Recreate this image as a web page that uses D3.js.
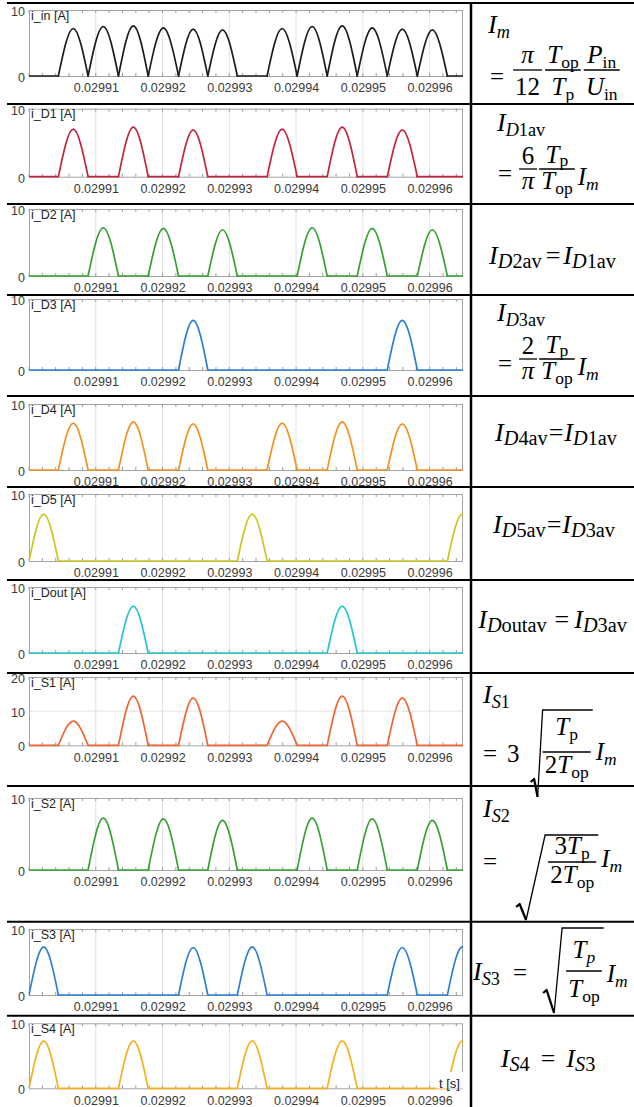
<!DOCTYPE html>
<html>
<head>
<meta charset="utf-8">
<script src="https://cdn.jsdelivr.net/npm/d3@7"></script>
<style>
  html, body { margin: 0; padding: 0; background: #fff; }
  svg { display: block; }
</style>
</head>
<body>
<svg id="chart" width="634" height="1107"></svg>
<script>
// ---------------------------------------------------------------------------
// Data: switch / diode currents of the converter over two switching cycles.
// Every conduction interval is bounded by two commutation instants; each
// series lists the peak current (A) reached in each interval (0 = off).
// ---------------------------------------------------------------------------
const slotEdges = [0.02990000, 0.02990440, 0.02990885, 0.02991340, 0.02991785,
                   0.02992240, 0.02992678, 0.02993120, 0.02993566, 0.02994016,
                   0.02994466, 0.02994916, 0.02995366, 0.02995816, 0.02996266,
                   0.02996713];

const seriesNames = ['i_in [A]', 'i_D1 [A]', 'i_D2 [A]', 'i_D3 [A]', 'i_D4 [A]',
                     'i_D5 [A]', 'i_Dout [A]', 'i_S1 [A]', 'i_S2 [A]', 'i_S3 [A]',
                     'i_S4 [A]'];

const iIn   = [0, 7.2, 7.5, 7.6, 7.3, 7.1, 7.0, 0, 7.2, 7.5, 7.6, 7.3, 7.1, 7.0, 0];
const iD1   = [0, 7.0, 0, 7.3, 0, 6.9, 0, 0, 7.0, 0, 7.3, 0, 6.9, 0, 0];
const iD2   = [0, 0, 7.2, 0, 7.1, 0, 6.9, 0, 0, 7.2, 0, 7.1, 0, 6.9, 0];
const iD3   = [0, 0, 0, 0, 0, 7.0, 0, 0, 0, 0, 0, 0, 7.0, 0, 0];
const iD4   = [0, 7.1, 0, 7.3, 0, 7.0, 0, 0, 7.1, 0, 7.3, 0, 7.0, 0, 0];
const iD5   = [7.0, 0, 0, 0, 0, 0, 0, 7.0, 0, 0, 0, 0, 0, 0, 7.0];
const iDout = [0, 0, 0, 7.1, 0, 0, 0, 0, 0, 0, 7.1, 0, 0, 0, 0];
const iS1   = [0, 7.1, 0, 14.4, 0, 13.9, 0, 0, 7.1, 0, 14.4, 0, 13.9, 0, 0];
const iS2   = [0, 0, 7.2, 0, 7.1, 0, 6.9, 0, 0, 7.2, 0, 7.1, 0, 6.9, 0];
const iS3   = [7.3, 0, 0, 0, 0, 7.2, 0, 7.3, 0, 0, 0, 0, 7.2, 0, 7.3];
const iS4   = [7.3, 0, 0, 7.3, 0, 0, 0, 7.3, 0, 0, 7.3, 0, 0, 0, 7.3];

const seriesPeaks = [iIn, iD1, iD2, iD3, iD4, iD5, iDout, iS1, iS2, iS3, iS4];
const seriesColors = ['#1c1c1c', '#c3263f', '#36a032', '#2a7fd3', '#f3901f',
                      '#c9c81f', '#22c6d0', '#f0652f', '#36a032', '#2a7fd3',
                      '#f5b01e'];

const timeDomain = [0.0299, 0.029965];
const xTicks = [0.02991, 0.02992, 0.02993, 0.02994, 0.02995, 0.02996];
const yTicks10 = [0, 10];
const yTicks20 = [0, 10, 20];
const seriesYMax = [10, 10, 10, 10, 10, 10, 10, 20, 10, 10, 10];

// ---------------------------------------------------------------------------
// Page geometry
// ---------------------------------------------------------------------------
const W = 634, H = 1107;
const plotLeft = 29, plotRight = 463;
const cellLeft = 471;
const rowLine  = [3, 104, 204, 295, 396, 487, 580, 673, 786, 921.7, 1015.7];
const plotTop  = [10, 108.7, 209, 299, 404, 494, 587, 677, 798, 929, 1023.3];
const plotZero = [76, 176.7, 276, 370, 470, 561, 653, 745.3, 870, 995, 1088.3];

const SANS = "'Liberation Sans', Arial, Helvetica, sans-serif";
const MATH = "'Liberation Serif', 'Times New Roman', serif";

const svg = d3.select('#chart');
svg.append('rect').attr('width', W).attr('height', H).attr('fill', '#fff');

const x = d3.scaleLinear().domain(timeDomain).range([plotLeft, plotRight]);
const minorTicks = d3.range(0, 66, 2).map(k => +(timeDomain[0] + k * 1e-6).toFixed(7));

const pulseLine = d3.line().x(d => x(d[0])).curve(d3.curveNatural);
const flatLine = d3.line().x(d => x(d[0]));

// ---------------------------------------------------------------------------
// Waveform panels
// ---------------------------------------------------------------------------
seriesNames.forEach((name, k) => {
  const top = plotTop[k], zero = plotZero[k];
  const y = d3.scaleLinear().domain([0, seriesYMax[k]]).range([zero, top]);
  pulseLine.y(d => y(d[1]));
  flatLine.y(d => y(d[1]));
  const g = svg.append('g').attr('class', 'panel');

  const clipId = 'clip' + k;
  svg.append('clipPath').attr('id', clipId)
    .append('rect').attr('x', plotLeft).attr('y', top - 3)
    .attr('width', plotRight - plotLeft).attr('height', zero - top + 6);

  // grid
  g.selectAll('line.vgrid').data(xTicks).join('line').attr('class', 'vgrid')
    .attr('x1', d => x(d)).attr('x2', d => x(d)).attr('y1', top).attr('y2', zero)
    .attr('stroke', '#e2e2e2').attr('stroke-width', 1);
  const yt = seriesYMax[k] === 20 ? yTicks20 : yTicks10;
  g.selectAll('line.hgrid').data(yt.filter(v => v > 0 && v < seriesYMax[k])).join('line')
    .attr('class', 'hgrid')
    .attr('x1', plotLeft).attr('x2', plotRight).attr('y1', d => y(d)).attr('y2', d => y(d))
    .attr('stroke', '#e2e2e2').attr('stroke-width', 1);

  // minor ticks, inside the frame on top and bottom
  g.selectAll('line.tt').data(minorTicks).join('line').attr('class', 'tt')
    .attr('x1', d => x(d)).attr('x2', d => x(d)).attr('y1', top).attr('y2', top + 3)
    .attr('stroke', '#9a9a9a');
  g.selectAll('line.bt').data(minorTicks).join('line').attr('class', 'bt')
    .attr('x1', d => x(d)).attr('x2', d => x(d)).attr('y1', zero).attr('y2', zero - 3)
    .attr('stroke', '#9a9a9a');

  // frame
  g.append('rect').attr('x', plotLeft + 0.5).attr('y', top + 0.5)
    .attr('width', plotRight - plotLeft - 1).attr('height', zero - top)
    .attr('fill', 'none').attr('stroke', '#a3a3a3').attr('stroke-width', 1);

  // axes labels
  const ax = g.append('g').attr('transform', `translate(0,${zero})`)
    .call(d3.axisBottom(x).tickValues(xTicks).tickFormat(d3.format('.5f'))
      .tickSize(0).tickPadding(7.5));
  ax.select('.domain').remove();
  ax.selectAll('text').attr('font-family', SANS).attr('font-size', 12.5).attr('fill', '#3a3a3a');

  const ay = g.append('g').attr('transform', `translate(${plotLeft},1.5)`)
    .call(d3.axisLeft(y).tickValues(yt).tickSize(0).tickPadding(4));
  ay.select('.domain').remove();
  ay.selectAll('text').attr('font-family', SANS).attr('font-size', 12.5).attr('fill', '#3a3a3a');

  // current trace
  const peaks = seriesPeaks[k];
  const trace = g.append('g').attr('clip-path', `url(#${clipId})`)
    .attr('fill', 'none').attr('stroke', seriesColors[k]).attr('stroke-width', 1.7)
    .attr('stroke-linejoin', 'round').attr('stroke-linecap', 'round');
  const flat = peaks.map((p, s) => p === 0
      ? flatLine([[slotEdges[s], 0], [slotEdges[s + 1], 0]]) : '').join('');
  trace.append('path').attr('d', flat);
  peaks.forEach((p, s) => {
    if (p === 0) return;
    const t0 = slotEdges[s], t1 = slotEdges[s + 1];
    trace.append('path').attr('d', pulseLine([[t0, 0], [(t0 + t1) / 2, p], [t1, 0]]));
  });

  // series name, boxed in the top-left corner
  const box = g.append('rect').attr('x', plotLeft + 1).attr('y', top + 1)
    .attr('height', 10).attr('fill', '#fff');
  const lbl = g.append('text').attr('x', plotLeft + 2).attr('y', top + 9.5)
    .attr('font-family', SANS).attr('font-size', 12.5).attr('fill', '#222').text(name);
  box.attr('width', lbl.node().getComputedTextLength() + 3);

  if (k === seriesNames.length - 1) {
    g.append('rect').attr('x', 436).attr('y', 1072).attr('width', 27).attr('height', 16.5)
      .attr('fill', '#fff');
    g.append('text').attr('x', 439).attr('y', 1087.5).attr('font-family', SANS)
      .attr('font-size', 13).attr('fill', '#222').text('t [s]');
  }
});

// ---------------------------------------------------------------------------
// Table rules
// ---------------------------------------------------------------------------
svg.selectAll('line.rule').data(rowLine).join('line').attr('class', 'rule')
  .attr('x1', 7).attr('x2', W).attr('y1', d => d).attr('y2', d => d)
  .attr('stroke', '#000').attr('stroke-width', 2);
svg.append('line').attr('x1', cellLeft).attr('x2', cellLeft).attr('y1', 2).attr('y2', H)
  .attr('stroke', '#000').attr('stroke-width', 2.5);

// ---------------------------------------------------------------------------
// Formulas
// ---------------------------------------------------------------------------
const fg = svg.append('g').attr('class', 'formulas');
const it = t => ({ t, i: true });
const up = t => ({ t });
const sb = (t, i) => ({ t, sub: true, i: !!i });

function mathText(g, x0, y0, segs, fs, anchor, subStyle) {
  const ss = subStyle || { size: 0.7, drop: 0.2 };
  const t = g.append('text').attr('x', x0).attr('y', y0)
    .attr('font-family', MATH).attr('font-size', fs).attr('fill', '#000')
    .attr('text-anchor', anchor || 'start');
  let cur = 0;
  segs.forEach(s => {
    const off = s.sub ? fs * ss.drop : 0;
    const ts = t.append('tspan').text(s.t)
      .attr('font-style', s.i ? 'italic' : 'normal')
      .attr('font-size', s.sub ? fs * ss.size : fs)
      .attr('dy', (off - cur).toFixed(2));
    if (s.dx) ts.attr('dx', s.dx);
    cur = off;
  });
  return t;
}
const adv = t => t.node().getBBox().width;

function frac(g, x0, f, fs) {
  const n = mathText(g, 0, f.nb, f.num, fs, 'middle', f.ns);
  const d = mathText(g, 0, f.db, f.den, fs, 'middle');
  const w = Math.max(adv(n), adv(d)) + 4;
  n.attr('x', x0 + w / 2);
  d.attr('x', x0 + w / 2);
  g.append('line').attr('x1', x0).attr('x2', x0 + w).attr('y1', f.bar).attr('y2', f.bar)
    .attr('stroke', '#000').attr('stroke-width', 1.3);
  return w;
}

function radical(g, r, xEnd) {
  g.append('path').attr('d', `M${r.hx},${r.hy}L${r.hx + 3.5},${r.hy - 3}L${r.bx},${r.by}`)
    .attr('fill', 'none').attr('stroke', '#000').attr('stroke-width', 2.3)
    .attr('stroke-linejoin', 'round');
  g.append('path').attr('d', `M${r.bx},${r.by}L${r.tx},${r.ty}L${xEnd},${r.ty}`)
    .attr('fill', 'none').attr('stroke', '#000').attr('stroke-width', 1.3);
}

const F = 25;

// I_m = π/12 · Top/Tp · Pin/Uin
(function () {
  mathText(fg, 488, 33, [it('I'), sb('m', 1)], 26);
  let cx = 490;
  cx += adv(mathText(fg, cx, 85, [up('=')], F)) + 9;
  const fr = { bar: 70, nb: 63, db: 95 };
  cx += frac(fg, cx, { ...fr, num: [it('π')], den: [up('12')] }, F) + 3;
  cx += frac(fg, cx, { ...fr, num: [it('T'), sb('op')], den: [it('T'), sb('p')] }, F) + 3;
  frac(fg, cx, { ...fr, num: [it('P'), sb('in')], den: [it('U'), sb('in')] }, F);
})();

// average diode currents, two-line form
function avgFormula(name, coef, dy) {
  mathText(fg, 497, 131 + dy, [it('I'), sb('D', 1), sb(name)], 26);
  let cx = 498;
  cx += adv(mathText(fg, cx, 182 + dy, [up('=')], F)) + 7;
  const bar = 169 + dy, db = 188.5 + dy;
  cx += frac(fg, cx, { bar, db, nb: 163.5 + dy, num: [up(coef)], den: [it('π')] }, F) + 2;
  cx += frac(fg, cx, { bar, db, nb: 162.5 + dy, ns: { size: 0.7, drop: 0.14 },
    num: [it('T'), sb('p')], den: [it('T'), sb('op')] }, F) + 3;
  mathText(fg, cx, 185 + dy, [it('I'), sb('m', 1)], F);
}
avgFormula('1av', '6', 0);
avgFormula('3av', '2', 190);

// single-line equalities
const cellMid = (cellLeft + W) / 2;
const FT = 26;
const tnrSub = { size: 0.78, drop: 0.17 };
function eqLine(y0, lhs, rhs, gapL, gapR, xc) {
  mathText(fg, xc || cellMid, y0,
    [it('I'), ...lhs, { t: '=', dx: gapL }, { t: 'I', i: true, dx: gapR }, ...rhs],
    FT, 'middle', tnrSub);
}
eqLine(264, [sb('D', 1), sb('2av')], [sb('D', 1), sb('1av')], 4, 3);
eqLine(441, [sb('D', 1), sb('4av')], [sb('D', 1), sb('1av')], 1, 1, 556);
eqLine(533, [sb('D', 1), sb('5av')], [sb('D', 1), sb('3av')], 1, 1, 554);
eqLine(628, [sb('D', 1), sb('outav')], [sb('D', 1), sb('3av')], 8, 5);
eqLine(1067, [sb('S', 1), sb('4')], [sb('S', 1), sb('3')], 11, 11, 548);

// RMS switch currents
(function () {
  // I_S1 = 3 sqrt(Tp / 2Top) I_m
  mathText(fg, 483, 703, [it('I'), sb('S', 1), sb('1')], 26);
  let cx = 483;
  cx += adv(mathText(fg, cx, 762, [up('=')], F)) + 10;
  cx += adv(mathText(fg, cx, 762, [up('3')], F)) + 11;
  const x0 = cx + 12;
  const w = frac(fg, x0, { bar: 752, nb: 735, db: 773,
    num: [it('T'), sb('p')], den: [up('2'), it('T'), sb('op')] }, F);
  radical(fg, { hx: cx, hy: 782, bx: cx + 7, by: 797, tx: x0, ty: 710 }, x0 + w + 2);
  mathText(fg, x0 + w + 5, 760, [it('I'), sb('m', 1)], F);

  // I_S2 = sqrt(3Tp / 2Top) I_m
  mathText(fg, 483, 817, [it('I'), sb('S', 1), sb('2')], 26);
  cx = 483;
  cx += adv(mathText(fg, cx, 870, [up('=')], F)) + 20;
  const x1 = cx + 31;
  const w1 = frac(fg, x1, { bar: 862, nb: 854, db: 883,
    num: [up('3'), it('T'), sb('p')], den: [up('2'), it('T'), sb('op')] }, F);
  radical(fg, { hx: cx - 1, hy: 907, bx: cx + 9, by: 920, tx: x1 - 3, ty: 835 }, x1 + w1 + 2);
  mathText(fg, x1 + w1 + 5, 867, [it('I'), sb('m', 1)], F);

  // I_S3 = sqrt(Tp / Top) I_m
  mathText(fg, 473, 980, [it('I'), sb('S', 1), sb('3')], 26);
  cx = 513;
  cx += adv(mathText(fg, cx, 981, [up('=')], F)) + 16;
  const x2 = cx + 23;
  const w2 = frac(fg, x2, { bar: 971, nb: 958, db: 997,
    num: [it('T'), sb('p', 1)], den: [it('T'), sb('op')] }, F);
  radical(fg, { hx: cx, hy: 993, bx: cx + 11, by: 1013, tx: x2 - 4, ty: 928 }, x2 + w2 + 2);
  mathText(fg, x2 + w2 + 5, 982, [it('I'), sb('m', 1)], F);
})();
</script>
</body>
</html>
